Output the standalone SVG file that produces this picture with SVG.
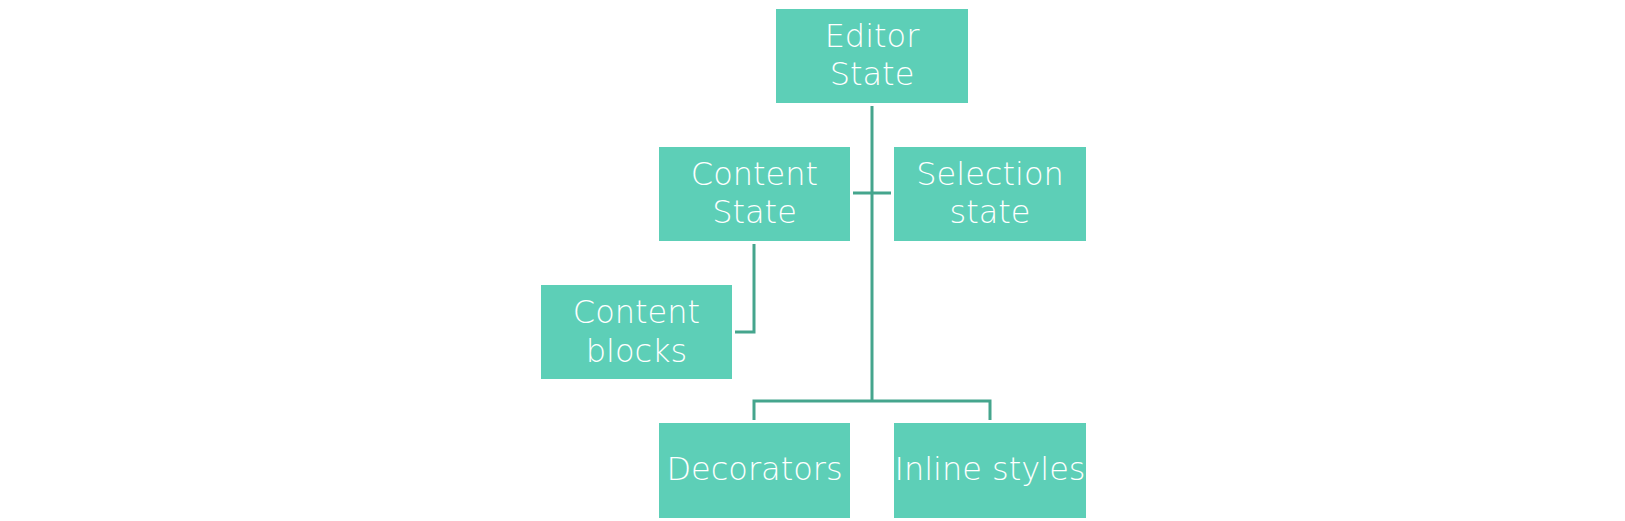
<svg xmlns="http://www.w3.org/2000/svg" width="1625" height="521" viewBox="0 0 1625 521">
<style>
.box{fill:#5DCFB7;}
.lbl{fill:#ffffff;font-family:"DejaVu Sans","Liberation Sans",sans-serif;font-size:32px;font-weight:300;text-anchor:middle;}
.ln{fill:none;stroke:#45A58D;stroke-width:3;}
</style>
<rect width="1625" height="521" fill="#ffffff"/>
<g id="connectors">
<path class="ln" d="M872 106 V401"/>
<path class="ln" d="M853 193 H891"/>
<path class="ln" d="M754 244 V332 H735"/>
<path class="ln" d="M754 420 V401 H990 V420"/>
</g>
<g id="editor-state">
<rect class="box" x="776" y="9" width="192" height="94"/>
<text class="lbl" x="872" y="47">Editor</text>
<text class="lbl" x="872" y="85">State</text>
</g>
<g id="content-state">
<rect class="box" x="659" y="147" width="191" height="94"/>
<text class="lbl" x="754.5" y="185">Content</text>
<text class="lbl" x="754.5" y="223">State</text>
</g>
<g id="selection-state">
<rect class="box" x="894" y="147" width="192" height="94"/>
<text class="lbl" x="990" y="185">Selection</text>
<text class="lbl" x="990" y="223">state</text>
</g>
<g id="content-blocks">
<rect class="box" x="541" y="285" width="191" height="94"/>
<text class="lbl" x="636.5" y="323">Content</text>
<text class="lbl" x="636.5" y="362">blocks</text>
</g>
<g id="decorators">
<rect class="box" x="659" y="423" width="191" height="95"/>
<text class="lbl" x="754.5" y="480">Decorators</text>
</g>
<g id="inline-styles">
<rect class="box" x="894" y="423" width="192" height="95"/>
<text class="lbl" x="990" y="480">Inline styles</text>
</g>
</svg>
